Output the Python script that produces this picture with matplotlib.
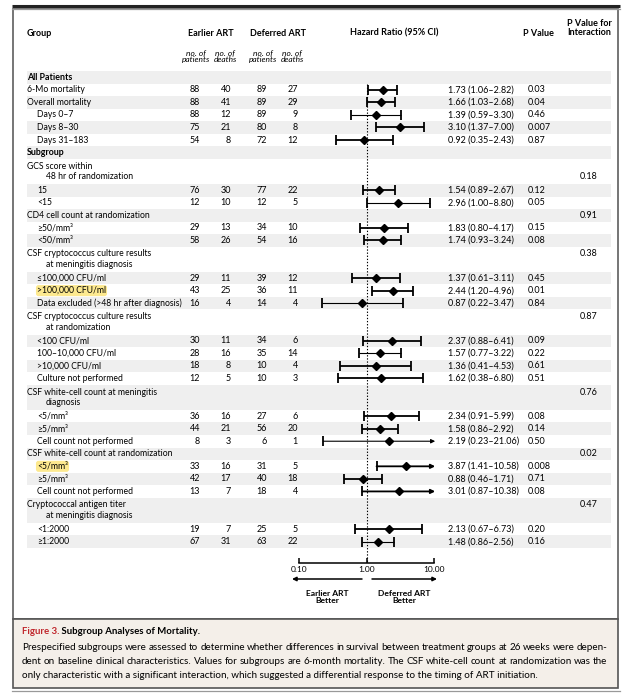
import matplotlib.pyplot as plt
from matplotlib.patches import Rectangle

plt.rcParams['font.family'] = ['Lato', 'DejaVu Sans']

# ---- table data ----
labels = [
    "All Patients", "6-Mo mortality", "Overall mortality", "Days 0\u20137",
    "Days 8\u201330", "Days 31\u2013183", "Subgroup",
    "GCS score within\n48 hr of randomization", "15", "<15",
    "CD4 cell count at randomization", "\u226550/mm\u00b3", "<50/mm\u00b3",
    "CSF cryptococcus culture results\nat meningitis diagnosis",
    "\u2264100,000 CFU/ml", ">100,000 CFU/ml",
    "Data excluded (>48 hr after diagnosis)",
    "CSF cryptococcus culture results\nat randomization",
    "<100 CFU/ml", "100\u201310,000 CFU/ml", ">10,000 CFU/ml", "Culture not performed",
    "CSF white-cell count at meningitis\ndiagnosis",
    "<5/mm\u00b3", "\u22655/mm\u00b3", "Cell count not performed",
    "CSF white-cell count at randomization",
    "<5/mm\u00b3", "\u22655/mm\u00b3", "Cell count not performed",
    "Cryptococcal antigen titer\nat meningitis diagnosis",
    "<1:2000", "\u22651:2000",
]
# s = section, h = subgroup header, t = top-level data row, r = indented data row
kinds = ["s", "t", "t", "r", "r", "r", "s",
         "h", "r", "r", "h", "r", "r", "h", "r", "r", "r",
         "h", "r", "r", "r", "r", "h", "r", "r", "r",
         "h", "r", "r", "r", "h", "r", "r"]

early_n = [88, 88, 88, 75, 54, 76, 12, 29, 58, 29, 43, 16, 30, 28, 18, 12, 36, 44, 8, 33, 42, 13, 19, 67]
early_d = [40, 41, 12, 21, 8, 30, 10, 13, 26, 11, 25, 4, 11, 16, 8, 5, 16, 21, 3, 16, 17, 7, 7, 31]
defer_n = [89, 89, 89, 80, 72, 77, 12, 34, 54, 39, 36, 14, 34, 35, 10, 10, 27, 56, 6, 31, 40, 18, 25, 63]
defer_d = [27, 29, 9, 8, 12, 22, 5, 10, 16, 12, 11, 4, 6, 14, 4, 3, 6, 20, 1, 5, 18, 4, 5, 22]
hr = [1.73, 1.66, 1.39, 3.10, 0.92, 1.54, 2.96, 1.83, 1.74, 1.37, 2.44, 0.87,
      2.37, 1.57, 1.36, 1.62, 2.34, 1.58, 2.19, 3.87, 0.88, 3.01, 2.13, 1.48]
ci_lo = [1.06, 1.03, 0.59, 1.37, 0.35, 0.89, 1.00, 0.80, 0.93, 0.61, 1.20, 0.22,
         0.88, 0.77, 0.41, 0.38, 0.91, 0.86, 0.23, 1.41, 0.46, 0.87, 0.67, 0.86]
ci_hi = [2.82, 2.68, 3.30, 7.00, 2.43, 2.67, 8.80, 4.17, 3.24, 3.11, 4.96, 3.47,
         6.41, 3.22, 4.53, 6.80, 5.99, 2.92, 21.06, 10.58, 1.71, 10.38, 6.73, 2.56]
p_value = ["0.03", "0.04", "0.46", "0.007", "0.87", "0.12", "0.05", "0.15", "0.08",
           "0.45", "0.01", "0.84", "0.09", "0.22", "0.61", "0.51", "0.08", "0.14",
           "0.50", "0.008", "0.71", "0.08", "0.20", "0.16"]
p_interaction = ["0.18", "0.91", "0.38", "0.87", "0.76", "0.02", "0.47"]
highlighted = [10, 19]    # data rows marked in yellow
thin_rows = [2, 6, 11, 13, 18, 23]  # data rows printed with a lighter CI line

caption_title = "Subgroup Analyses of Mortality."
caption_lines = [
    "Prespecified subgroups were assessed to determine whether differences in survival between treatment groups at 26 weeks were depen-",
    "dent on baseline clinical characteristics. Values for subgroups are 6-month mortality. The CSF white-cell count at randomization was the",
    "only characteristic with a significant interaction, which suggested a differential response to the timing of ART initiation.",
]

# ---- figure in pixel coordinates ----
W, H = 624, 694
fig = plt.figure(figsize=(W / 100, H / 100), dpi=100)
ax = fig.add_axes([0, 0, 1, 1])
ax.set_xlim(0, W)
ax.set_ylim(H, 0)
ax.axis('off')

FS = 6.2       # row labels
FS_NUM = 6.5   # numbers
ROW = 12.55
TOP = 71

# frame
ax.plot([12, 620], [5.5, 5.5], color='#222222', lw=2.2, solid_capstyle='butt')
ax.plot([12, 620], [8.6, 8.6], color='#999999', lw=0.9)
ax.add_patch(Rectangle((13, 8.6), 605, 610, fill=False, ec='#6a6a6a', lw=1.3))
ax.add_patch(Rectangle((13, 619), 605, 69, fc='#f4efe9', ec='#555555', lw=1.2))
ax.plot([12, 620], [691, 691], color='#999999', lw=0.9)

# column headers
hb = dict(fontsize=6.5, fontweight='bold', va='center')
ax.text(27, 33, "Group", ha='left', **hb)
ax.text(211, 33, "Earlier ART", ha='center', **hb)
ax.text(278, 33, "Deferred ART", ha='center', **hb)
ax.text(394, 33, "Hazard Ratio (95% CI)", ha='center', **hb)
ax.text(538, 33, "P Value", ha='center', **hb)
ax.text(589, 27.5, "P Value for\nInteraction", ha='center', linespacing=1.0, **hb)
for cx, word in zip([196, 225, 263, 292], ["patients", "deaths", "patients", "deaths"]):
    ax.text(cx, 56, "no. of\n" + word, ha='center', va='center', fontsize=6.0,
            style='italic', linespacing=1.0)

# forest axes: y measured in the same pixel rows as the table
AX_Y = 563
fx = fig.add_axes([299 / W, 1 - AX_Y / H, 135 / W, (AX_Y - TOP) / H])
fx.set_xscale('log')
fx.set_xlim(0.1, 10)
fx.set_ylim(AX_Y, TOP)
fx.patch.set_visible(False)
for side in ['top', 'left', 'right']:
    fx.spines[side].set_visible(False)
fx.spines['bottom'].set_linewidth(1.1)
fx.set_yticks([])
fx.set_xticks([0.1, 1, 10])
fx.set_xticklabels(["0.10", "1.00", "10.00"])
fx.xaxis.set_minor_locator(plt.NullLocator())
fx.tick_params(axis='x', direction='in', length=3.5, width=1.1, pad=2.5, labelsize=6.0)
fx.plot([1, 1], [84, AX_Y], color='black', lw=0.8, ls=(0, (1.2, 1.6)))

y = TOP
di = 0
hi_ = 0
for i, (lab, kind) in enumerate(zip(labels, kinds)):
    n_lines = lab.count('\n') + 1
    h = ROW * n_lines
    yc = y + h / 2
    if i % 2 == 0:
        ax.add_patch(Rectangle((27, y), 584, h, fc='#efefef', ec='none', zorder=0))
    if kind == 's':
        ax.text(27, yc, lab, fontsize=6.4, fontweight='bold', va='center')
    elif kind == 'h':
        lines = lab.split('\n')
        ly = [yc] if n_lines == 1 else [yc - 5.3, yc + 5.3]
        for j, (t, yy) in enumerate(zip(lines, ly)):
            ax.text(27 if j == 0 else 46, yy, t, fontsize=FS, va='center')
        # GCS interaction p sits on the second line, the others on the first
        ax.text(589, ly[-1] if i == 7 else ly[0], p_interaction[hi_], fontsize=FS_NUM,
                ha='center', va='center')
        hi_ += 1
    else:
        x0 = 27 if kind == 't' else 37
        kw = {}
        if di in highlighted:
            kw['bbox'] = dict(boxstyle='round,pad=0.12,rounding_size=0.3',
                              fc='#fde98f', ec='none')
        ax.text(x0, yc, lab, fontsize=FS, va='center', **kw)
        for cx, v in zip([200, 231, 267, 298],
                         [early_n[di], early_d[di], defer_n[di], defer_d[di]]):
            ax.text(cx, yc, str(v), fontsize=FS_NUM, ha='right', va='center')
        ax.text(448, yc, f"{hr[di]:.2f} ({ci_lo[di]:.2f}\u2013{ci_hi[di]:.2f})",
                fontsize=FS_NUM, va='center')
        ax.text(528, yc, p_value[di], fontsize=FS_NUM, va='center')

        # forest mark
        lw = 0.8 if di in thin_rows else 1.3
        if ci_hi[di] > 10:
            fx.annotate('', xy=(10.4, yc), xytext=(ci_lo[di], yc),
                        arrowprops=dict(arrowstyle='-|>', lw=lw, color='black',
                                        mutation_scale=6, shrinkA=0, shrinkB=0),
                        annotation_clip=False)
            fx.plot([ci_lo[di]], [yc], marker='|', ms=7, mew=1.3, color='black',
                    clip_on=False)
            fx.plot([hr[di]], [yc], marker='D', ms=3.6, color='black', clip_on=False)
        else:
            fx.errorbar([hr[di]], [yc], xerr=[[hr[di] - ci_lo[di]], [ci_hi[di] - hr[di]]],
                        fmt='D', ms=3.6, color='black', elinewidth=lw, capsize=3.5,
                        capthick=1.3, clip_on=False)
        di += 1
    y += h

# direction arrows under the axis
ax.annotate('', xy=(292, 579), xytext=(362, 579),
            arrowprops=dict(arrowstyle='-|>', lw=1.1, color='black',
                            mutation_scale=6, shrinkA=0, shrinkB=0))
ax.annotate('', xy=(437, 579), xytext=(372, 579),
            arrowprops=dict(arrowstyle='-|>', lw=1.1, color='black',
                            mutation_scale=6, shrinkA=0, shrinkB=0))
ax.text(327, 597, "Earlier ART\nBetter", ha='center', va='center', fontsize=6.1,
        fontweight='bold', linespacing=1.15)
ax.text(404, 597, "Deferred ART\nBetter", ha='center', va='center', fontsize=6.1,
        fontweight='bold', linespacing=1.15)

# caption
t1 = ax.text(22, 632, "Figure 3.", fontsize=6.9, color='#c0272d', fontweight='bold',
             va='center')
ax.annotate(" " + caption_title, xy=(1, 0.5), xycoords=t1, fontsize=6.9,
            fontweight='bold', va='center')

CAP_FS = 7.1
renderer = fig.canvas.get_renderer()


def justify(line, x0, x1, yy):
    words = line.split(' ')
    ts = [ax.text(0, yy, w, fontsize=CAP_FS, va='center') for w in words]
    ws = [t.get_window_extent(renderer).width for t in ts]
    gap = (x1 - x0 - sum(ws)) / (len(words) - 1)
    x = x0
    for t, w in zip(ts, ws):
        t.set_x(x)
        x += w + gap


for k, (line, yy) in enumerate(zip(caption_lines, [648, 661.5, 675])):
    if k < 2:
        justify(line, 22, 607, yy)
    else:
        ax.text(22, yy, line, fontsize=CAP_FS, va='center')

fig.savefig('out.png', dpi=100)
